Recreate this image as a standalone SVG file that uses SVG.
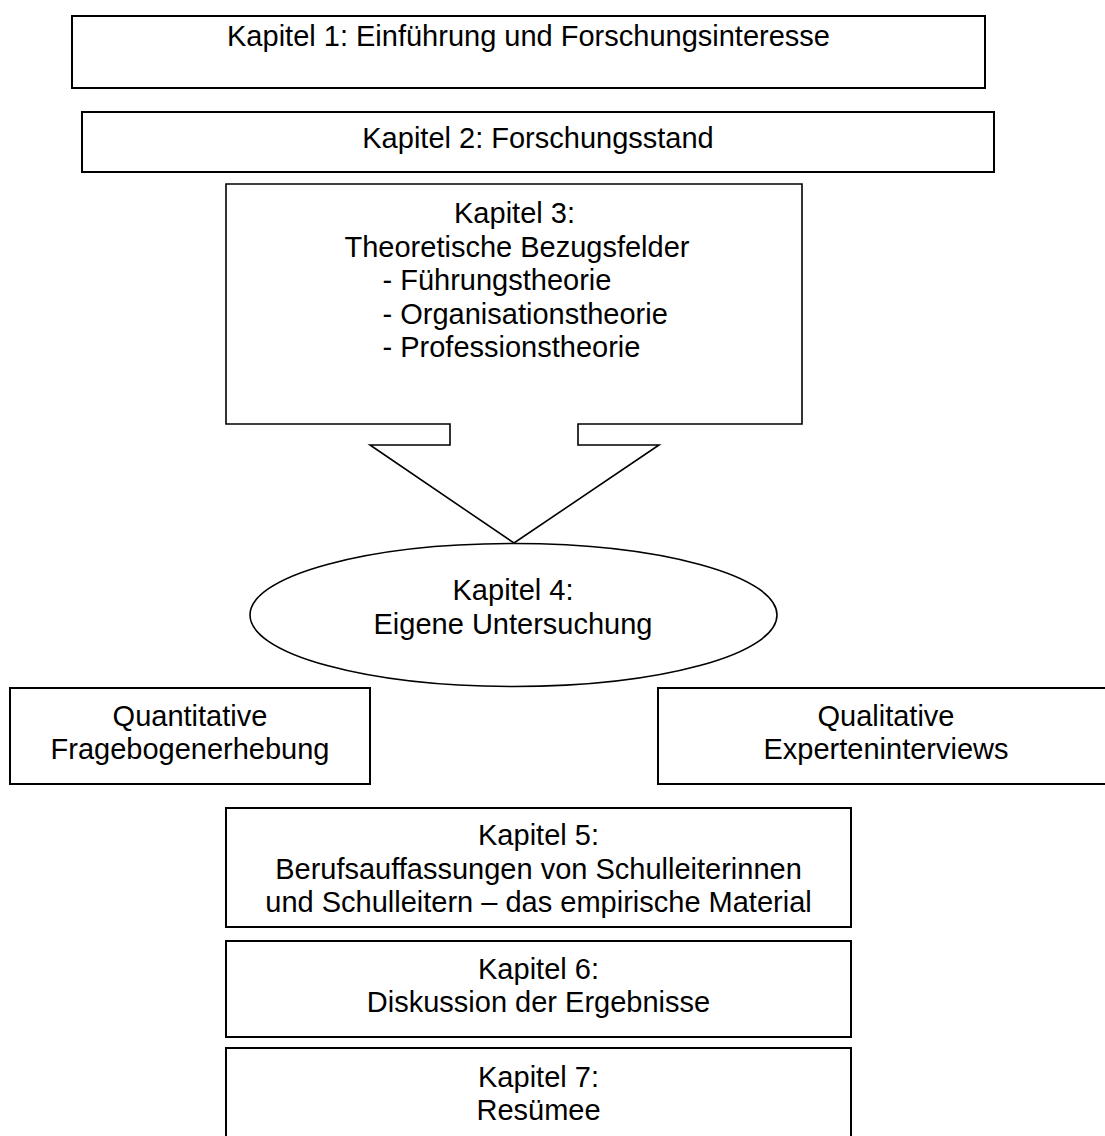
<svg xmlns="http://www.w3.org/2000/svg" width="1105" height="1136" viewBox="0 0 1105 1136">
<style>
.box{fill:#fff;stroke:#000;stroke-width:2}
.thin{fill:#fff;stroke:#000;stroke-width:1.6}
text{font-family:"Liberation Sans",Arial,sans-serif;font-size:29px;fill:#000}
.c{text-anchor:middle}
</style>
<rect width="1105" height="1136" fill="#fff"/>
<g id="kap1">
<rect class="box" x="72" y="16" width="913" height="72"/>
<text class="c" x="528.5" y="46">Kapitel 1: Einführung und Forschungsinteresse</text>
</g>
<g id="kap2">
<rect class="box" x="82" y="112" width="912" height="60"/>
<text class="c" x="538" y="148">Kapitel 2: Forschungsstand</text>
</g>
<g id="kap3">
<path class="thin" d="M226,184 H802 V424 H578 V445 H659 L514,543 L370,445 H450 V424 H226 Z" stroke-width="2"/>
<text class="c" x="514.5" y="223">Kapitel 3:</text>
<text class="c" x="517" y="256.5">Theoretische Bezugsfelder</text>
<text x="382.5" y="290">- Führungstheorie</text>
<text x="382.5" y="323.5">- Organisationstheorie</text>
<text x="382.5" y="357">- Professionstheorie</text>
</g>
<g id="kap4">
<ellipse class="thin" cx="513.5" cy="615" rx="263.5" ry="71.5"/>
<text class="c" x="513" y="600">Kapitel 4:</text>
<text class="c" x="513" y="634">Eigene Untersuchung</text>
</g>
<g id="quant">
<rect class="box" x="10" y="688" width="360" height="96"/>
<text class="c" x="190" y="726">Quantitative</text>
<text class="c" x="190" y="759">Fragebogenerhebung</text>
</g>
<g id="qual">
<rect class="box" x="658" y="688" width="460" height="96"/>
<text class="c" x="886" y="726">Qualitative</text>
<text class="c" x="886" y="759">Experteninterviews</text>
</g>
<g id="kap5">
<rect class="box" x="226" y="808" width="625" height="119"/>
<text class="c" x="538.5" y="845">Kapitel 5:</text>
<text class="c" x="538.5" y="878.5">Berufsauffassungen von Schulleiterinnen</text>
<text class="c" x="538.5" y="912">und Schulleitern – das empirische Material</text>
</g>
<g id="kap6">
<rect class="box" x="226" y="941" width="625" height="96"/>
<text class="c" x="538.5" y="978.5">Kapitel 6:</text>
<text class="c" x="538.5" y="1012">Diskussion der Ergebnisse</text>
</g>
<g id="kap7">
<rect class="box" x="226" y="1048" width="625" height="100"/>
<text class="c" x="538.5" y="1086.5">Kapitel 7:</text>
<text class="c" x="538.5" y="1120">Resümee</text>
</g>
<g id="connectors"></g>
</svg>
